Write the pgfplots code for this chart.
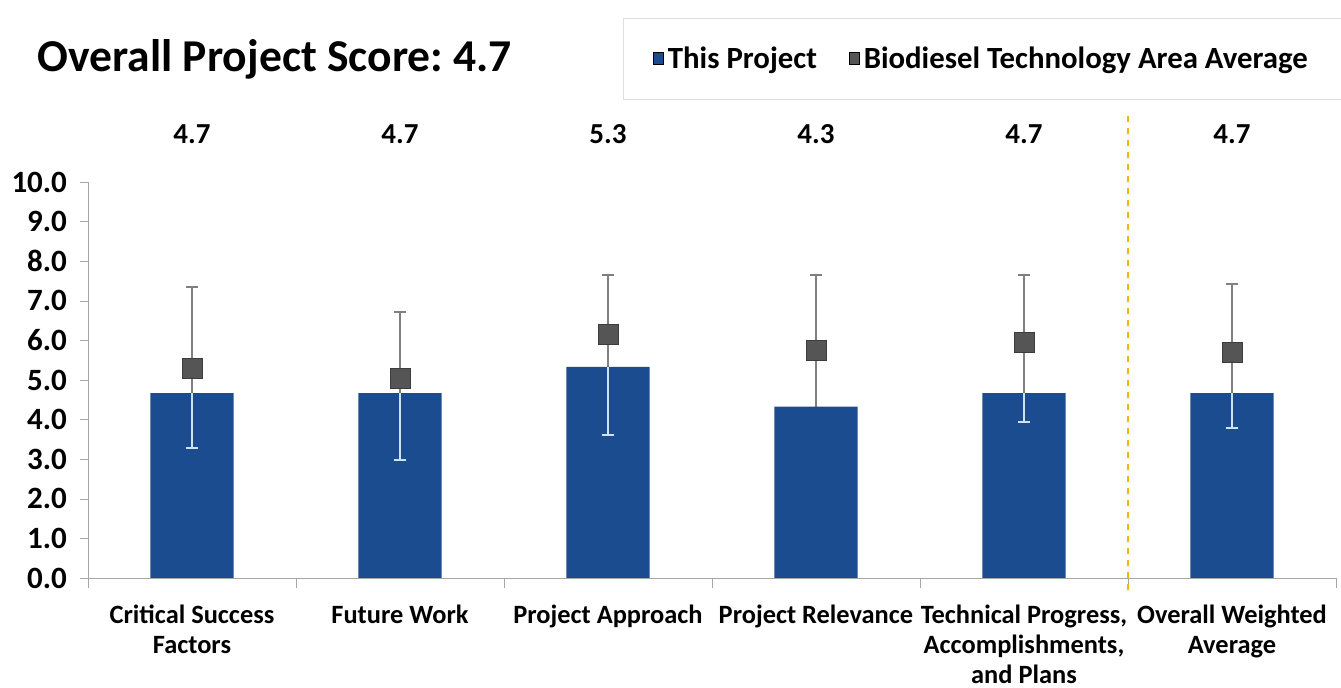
\documentclass[border=0pt]{standalone}
\usepackage{fontspec}
\setmainfont{Carlito}
\usepackage{pgfplots}
\pgfplotsset{compat=1.18}
\definecolor{barblue}{HTML}{1B4C90}
\definecolor{avggray}{HTML}{555555}
\definecolor{errgray}{HTML}{808080}
\definecolor{errlight}{HTML}{CFE2F3}
\definecolor{divider}{HTML}{F2B705}
\frenchspacing

\begin{document}
\begin{tikzpicture}
\begin{axis}[
  scale only axis, width=624pt, height=198pt,
  xmin=-0.5, xmax=5.5, ymin=0, ymax=10,
  axis x line=bottom, axis y line=left,
  axis line style={draw=gray!70, -},
  xtick={0,...,5},
  xticklabels={{Critical Success\\Factors},{Future Work},{Project Approach},{Project Relevance},{Technical Progress,\\Accomplishments,\\and Plans},{Overall Weighted\\Average}},
  minor xtick={-0.5,0.5,...,5.5},
  major x tick style={draw=none},
  minor x tick style={draw=gray!70},
  minor tick length=5pt,
  ytick={0,1,...,10},
  major y tick style={draw=gray!70},
  major tick length=4pt,
  tick align=outside,
  yticklabel={\pgfmathprintnumber[fixed,fixed zerofill,precision=1]{\tick}},
  /pgf/number format/assume math mode=true,
  yticklabel style={font=\fontsize{15.5}{17}\selectfont\bfseries, xshift=-3pt},
  xticklabel style={font=\fontsize{13.2}{15}\selectfont\bfseries, align=center, yshift=-6pt},
  clip=false,
  legend style={at={(1.005,1.414)}, anchor=north east, draw=gray!25, fill=white,
    font=\fontsize{15.4}{17}\selectfont\bfseries, inner xsep=15pt, inner ysep=12pt,
    /tikz/every even column/.append style={column sep=14pt}},
  legend columns=2,
  legend image code/.code={\fill[#1] (2pt,-3pt) rectangle (7pt,3pt);},
]
\addlegendimage{fill=barblue}
\addlegendentry{This Project}
\addlegendimage{fill=avggray}
\addlegendentry{Biodiesel Technology Area Average}

% divider before the overall average
\addplot[forget plot, divider, line width=1.2pt, dashed] coordinates {(4.5,-0.3) (4.5,11.75)};

% area average range (gray)
\addplot[forget plot, draw=none, mark=none,
  error bars/.cd, y dir=both, y explicit,
  error bar style={errgray, line width=1pt},
  error mark options={errgray, line width=1pt, mark size=3pt, rotate=90}]
  coordinates {
  (0,5.30) += (0,2.05) -= (0,2.02)
  (1,5.05) += (0,1.67) -= (0,2.07)
  (2,6.14) += (0,1.51) -= (0,2.52)
  (3,5.75) += (0,1.90) -= (0,1.45)
  (4,5.95) += (0,1.70) -= (0,2.00)
  (5,5.70) += (0,1.72) -= (0,1.90)
  };

% this project
\addplot[forget plot, ybar, bar width=0.4, fill=barblue, draw=none]
  coordinates {(0,4.67) (1,4.67) (2,5.33) (3,4.33) (4,4.67) (5,4.67)};

% range seen through the bars (light)
\addplot[forget plot, draw=none, mark=none,
  error bars/.cd, y dir=minus, y explicit,
  error bar style={errlight, line width=1pt},
  error mark options={errlight, line width=1pt, mark size=3pt, rotate=90}]
  coordinates {
  (0,4.67) -= (0,1.39)
  (1,4.67) -= (0,1.69)
  (2,5.33) -= (0,1.71)
  (4,4.67) -= (0,0.72)
  (5,4.67) -= (0,0.87)
  };

% area average markers
\addplot[forget plot, only marks, mark=square*, mark size=5pt,
  mark options={fill=avggray, draw=avggray!70!black}]
  coordinates {(0,5.30) (1,5.05) (2,6.14) (3,5.75) (4,5.95) (5,5.70)};

% score labels above the plot
\addplot[forget plot, only marks, mark=none, nodes near coords,
  point meta=explicit symbolic,
  every node near coord/.append style={anchor=center, font=\fontsize{14.5}{17}\selectfont\bfseries}]
  coordinates {(0,11.2)[4.7] (1,11.2)[4.7] (2,11.2)[5.3] (3,11.2)[4.3] (4,11.2)[4.7] (5,11.2)[4.7]};

\node[anchor=west, font=\fontsize{22.8}{26}\selectfont\bfseries] at (rel axis cs:-0.046,1.31) {Overall Project Score: 4.7};
\coordinate (ll) at (rel axis cs:0,0);
\end{axis}
\pgfresetboundingbox
\path ([shift={(-44pt,-55pt)}]ll) rectangle ([shift={(626.5pt,289pt)}]ll);
\end{tikzpicture}
\end{document}
